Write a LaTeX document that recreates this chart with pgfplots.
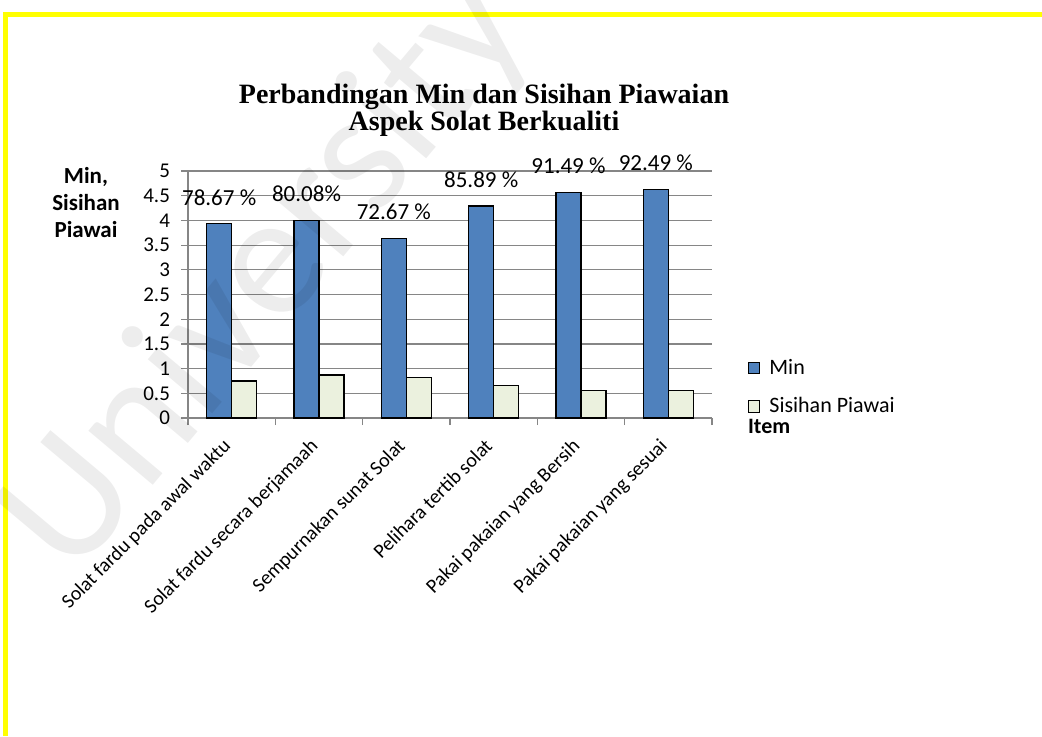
\documentclass[border=0pt]{standalone}
\usepackage{fontspec}
\setmainfont{Carlito}
\newfontfamily\titlefont{Liberation Serif}
\usepackage{pgfplots}
\pgfplotsset{compat=1.18}

\definecolor{minblue}{HTML}{4F81BD}
\definecolor{sdcream}{HTML}{EBF1DE}
\definecolor{gridgray}{HTML}{868686}
\definecolor{frameyellow}{HTML}{FFFF00}

\begin{document}
\begin{tikzpicture}[x=0.5pt,y=0.5pt]
% canvas in pixel units of the reference (1042 x 736), y upwards
\useasboundingbox[fill=white] (0,0) rectangle (1042,736);
\fill[frameyellow] (3,719) rectangle (1042,724);
\fill[frameyellow] (3,0) rectangle (8,724);

\node[font=\titlefont\bfseries\fontsize{14}{13.5}\selectfont, align=center]
  at (484,625.5) {Perbandingan Min dan Sisihan Piawaian\\Aspek Solat Berkualiti};

\node[font=\bfseries\fontsize{11.5}{13.5}\selectfont, align=center]
  at (86,533) {Min,\\Sisihan\\Piawai};

\begin{axis}[
  at={(94pt,159pt)}, anchor=south west,
  scale only axis, width=262pt, height=123.5pt,
  clip=false,
  xmin=-0.5, xmax=5.5, ymin=0, ymax=5,
  ybar=0pt, bar width=12.5pt,
  axis lines*=left,
  axis line style={draw=gridgray, line width=0.6pt},
  ymajorgrids, grid style={draw=gridgray, line width=0.6pt},
  ytick={0,0.5,1,1.5,2,2.5,3,3.5,4,4.5,5},
  yticklabels={0,0.5,1,1.5,2,2.5,3,3.5,4,4.5,5},
  yticklabel style={font=\fontsize{10.5}{12}\selectfont, xshift=-2pt},
  xtick={0,1,2,3,4,5},
  xticklabels={Solat fardu pada awal waktu, Solat fardu secara berjamaah,
    Sempurnakan sunat Solat, Pelihara tertib solat,
    Pakai pakaian yang Bersih, Pakai pakaian yang sesuai},
  xticklabel style={font=\fontsize{10}{12}\selectfont,
    xshift=-5pt, yshift=-6pt, rotate=45, anchor=north east, inner sep=0pt},
  major x tick style={draw=none},
  minor xtick={-0.5,0.5,1.5,2.5,3.5,4.5,5.5},
  tick align=outside,
  major tick length=3.5pt, minor tick length=3.5pt,
  tick style={draw=gridgray, line width=0.6pt},
  legend style={draw=none, fill=none, at={(1,0)}, anchor=south west,
    xshift=18pt, yshift=-1pt, inner sep=0pt,
    font=\fontsize{11}{13}\selectfont, row sep=6pt,
    /tikz/every odd column/.append style={column sep=2.5pt}},
  legend cell align=left,
  legend image code/.code={\draw[fill=#1, draw=black, line width=0.5pt]
    (0pt,-2.8pt) rectangle (5.5pt,2.8pt);},
]
\addplot[fill=minblue, draw=black, line width=0.6pt,
  nodes near coords, point meta=explicit symbolic,
  every node near coord/.append style={font=\fontsize{11.5}{13}\selectfont,
    anchor=south, inner sep=0pt, yshift=9pt}]
  coordinates {(0,3.93)[78.67 \%] (1,4.00)[80.08\%] (2,3.63)[72.67 \%]
    (3,4.29)[85.89 \%] (4,4.57)[91.49 \%] (5,4.62)[92.49 \%]};
\addlegendentry{Min}
\addplot[fill=sdcream, draw=black, line width=0.6pt]
  coordinates {(0,0.75) (1,0.87) (2,0.82) (3,0.66) (4,0.56) (5,0.56)};
\addlegendentry{Sisihan Piawai}
\end{axis}

\node[font=\bfseries\fontsize{11}{13}\selectfont, anchor=west] at (741,310) {Item};

% faint watermark of the scanned source
\node[rotate=50, anchor=base west, font=\fontsize{88}{88}\selectfont,
  text=black, opacity=0.07] at (68,150) {University of Malaya};
\end{tikzpicture}
\end{document}
